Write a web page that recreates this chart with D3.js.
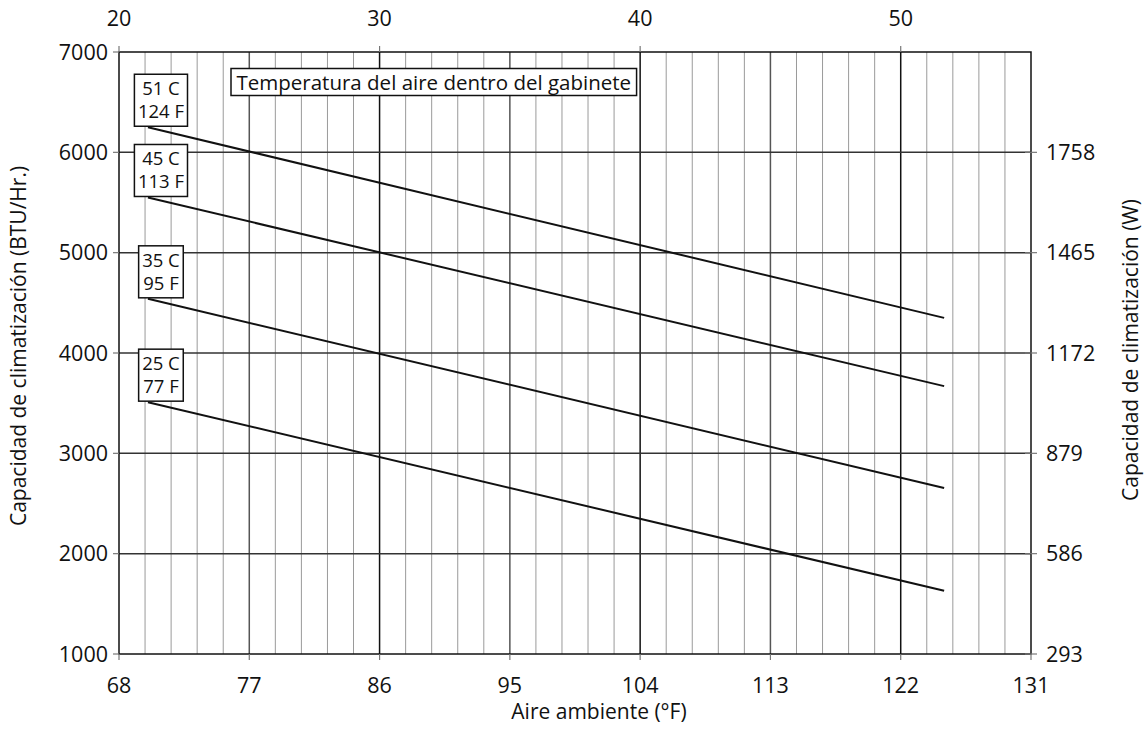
<!DOCTYPE html>
<html>
<head>
<meta charset="utf-8">
<script src="https://cdn.jsdelivr.net/npm/d3@7"></script>
<style>
  html, body { margin: 0; padding: 0; background: #fff; }
  svg { display: block; }
  text { font-family: "Open Sans", sans-serif; fill: #111; }
</style>
</head>
<body>
<svg id="chart" width="1148" height="730"></svg>
<script>
// ---- data ----
const seriesNames = ["51 C", "45 C", "35 C", "25 C"];
const seriesNamesF = ["124 F", "113 F", "95 F", "77 F"];
const ambientF = [70, 125];
const cap51 = [6250, 4350];
const cap45 = [5550, 3670];
const cap35 = [4540, 2655];
const cap25 = [3510, 1630];
const bottomTicks = [68, 77, 86, 95, 104, 113, 122, 131];
const topTicks = [20, 30, 40, 50];
const leftTicks = [1000, 2000, 3000, 4000, 5000, 6000, 7000];
const rightTicks = [293, 586, 879, 1172, 1465, 1758];
const titleBox = "Temperatura del aire dentro del gabinete";
const xTitle = "Aire ambiente (°F)";
const yTitle = "Capacidad de climatización (BTU/Hr.)";
const y2Title = "Capacidad de climatización (W)";

const allSeries = [cap51, cap45, cap35, cap25];

// ---- layout ----
const L = 119, R = 1031, T = 52, B = 654;
const svg = d3.select("#chart");

const x = d3.scaleLinear().domain([68, 131]).range([L, R]);
const xC = d3.scaleLinear().domain([20, 55]).range([L, R]);
const y = d3.scaleLinear().domain([1000, 7000]).range([B, T]);
const yW = d3.scaleLinear().domain([293, 2051]).range([B, T]);

// vertical grid every 1 C
const gridC = d3.range(21, 55);
svg.append("g").selectAll("line").data(gridC).join("line")
  .attr("x1", d => xC(d)).attr("x2", d => xC(d))
  .attr("y1", T).attr("y2", B)
  .attr("stroke", d => d % 10 === 0 ? "#111" : (d % 5 === 0 ? "#555" : "#9a9a9a"))
  .attr("stroke-width", d => d % 5 === 0 ? 1.5 : 1);

// horizontal grid
svg.append("g").selectAll("line").data(leftTicks.slice(1, -1)).join("line")
  .attr("x1", L).attr("x2", R)
  .attr("y1", d => y(d)).attr("y2", d => y(d))
  .attr("stroke", "#333").attr("stroke-width", 1.5);

// frame
svg.append("rect").attr("x", L).attr("y", T).attr("width", R - L).attr("height", B - T)
  .attr("fill", "none").attr("stroke", "#111").attr("stroke-width", 1.5);

// ticks
const tickCol = "#777";
svg.append("g").selectAll("line").data(leftTicks).join("line")
  .attr("x1", L - 6).attr("x2", L).attr("y1", d => y(d)).attr("y2", d => y(d))
  .attr("stroke", tickCol).attr("stroke-width", 1.2);
svg.append("g").selectAll("line").data(bottomTicks).join("line")
  .attr("x1", d => x(d)).attr("x2", d => x(d)).attr("y1", B).attr("y2", B + 6)
  .attr("stroke", tickCol).attr("stroke-width", 1.2);
svg.append("g").selectAll("line").data(topTicks).join("line")
  .attr("x1", d => xC(d)).attr("x2", d => xC(d)).attr("y1", T - 6).attr("y2", T)
  .attr("stroke", tickCol).attr("stroke-width", 1.2);
svg.append("g").selectAll("line").data(rightTicks).join("line")
  .attr("x1", R - 6).attr("x2", R + 6).attr("y1", d => yW(d)).attr("y2", d => yW(d))
  .attr("stroke", tickCol).attr("stroke-width", 1.2);

// tick labels
const fs = 21.5;
svg.append("g").selectAll("text").data(leftTicks).join("text")
  .attr("x", 108).attr("y", d => y(d)).attr("dy", "0.36em")
  .attr("text-anchor", "end").attr("font-size", fs).text(d => d);
svg.append("g").selectAll("text").data(bottomTicks).join("text")
  .attr("x", d => x(d)).attr("y", 693)
  .attr("text-anchor", "middle").attr("font-size", fs).text(d => d);
svg.append("g").selectAll("text").data(topTicks).join("text")
  .attr("x", d => xC(d)).attr("y", 26)
  .attr("text-anchor", "middle").attr("font-size", fs).text(d => d);
svg.append("g").selectAll("text").data(rightTicks).join("text")
  .attr("x", 1046).attr("y", d => yW(d)).attr("dy", "0.36em")
  .attr("text-anchor", "start").attr("font-size", fs).text(d => d);

// axis titles
svg.append("text").attr("x", 599).attr("y", 719).attr("text-anchor", "middle")
  .attr("font-size", 21).text(xTitle);
svg.append("text").attr("transform", "translate(26,346) rotate(-90)")
  .attr("text-anchor", "middle").attr("font-size", 21).text(yTitle);
svg.append("text").attr("transform", "translate(1138,350) rotate(-90)")
  .attr("text-anchor", "middle").attr("font-size", 21).text(y2Title);

// series lines
const line = d3.line().x((d, i) => x(ambientF[i])).y(d => y(d));
svg.append("g").selectAll("path").data(allSeries).join("path")
  .attr("d", d => line(d)).attr("fill", "none")
  .attr("stroke", "#111").attr("stroke-width", 2);

// series labels
const lblG = svg.append("g");
allSeries.forEach((s, i) => {
  const g = lblG.append("g");
  const cx = x(ambientF[0]) + 13;
  const bottom = y(s[0]) - 1;
  const top = bottom - 52;
  const rect = g.append("rect");
  const t1 = g.append("text").attr("x", cx).attr("y", top + 21)
    .attr("text-anchor", "middle").attr("font-size", 18.5).text(seriesNames[i]);
  const t2 = g.append("text").attr("x", cx).attr("y", top + 44)
    .attr("text-anchor", "middle").attr("font-size", 18.5).text(seriesNamesF[i]);
  const w = Math.max(t1.node().getComputedTextLength(), t2.node().getComputedTextLength()) + 7;
  rect.attr("x", cx - w / 2).attr("y", top).attr("width", w).attr("height", bottom - top)
    .attr("fill", "#fff").attr("stroke", "#111").attr("stroke-width", 1.5);
});

// title box
const tb = svg.append("g");
const tbRect = tb.append("rect");
const tbText = tb.append("text").attr("x", 236.5).attr("y", 90)
  .attr("font-size", 20.5).text(titleBox);
const tw = tbText.node().getComputedTextLength();
tbRect.attr("x", 231).attr("y", 68.5).attr("width", tw + 11).attr("height", 27)
  .attr("fill", "#fff").attr("stroke", "#111").attr("stroke-width", 1.5);
</script>
</body>
</html>
